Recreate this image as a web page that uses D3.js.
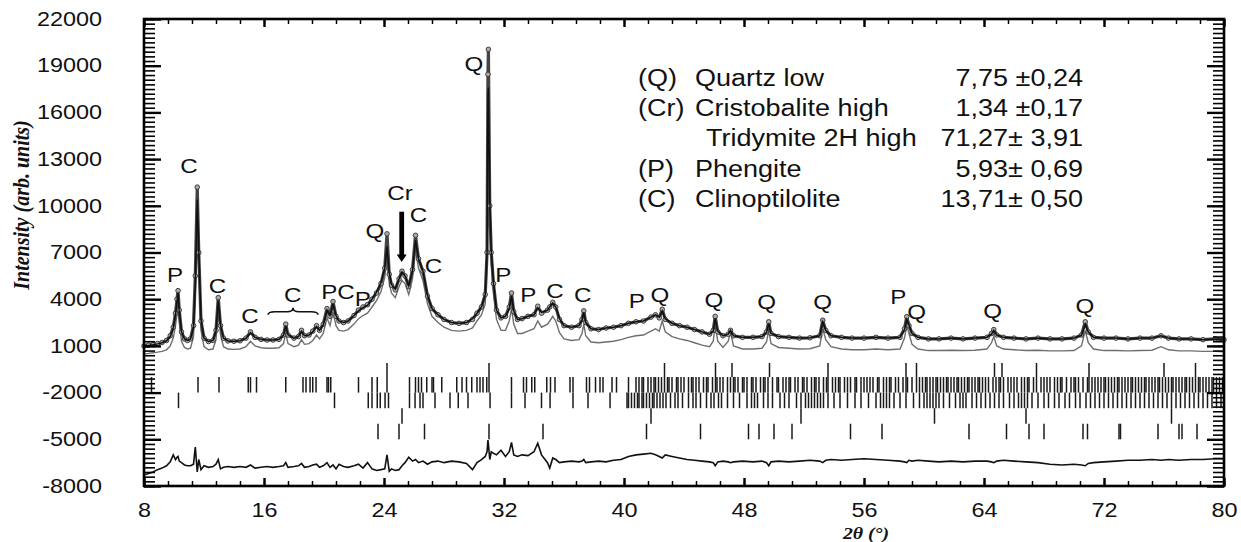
<!DOCTYPE html>
<html><head><meta charset="utf-8">
<script src="https://cdn.jsdelivr.net/npm/d3@7"></script>
<style>body{margin:0;background:#fff}</style>
</head><body>
<svg id="c" width="1241" height="542"></svg>
<script>
// ---------- DATA ----------
const twoTheta = [
 8.0,8.3,8.6,8.9,9.2,9.5,9.75,9.95,10.1,10.2,
 10.27,10.35,10.5,10.7,10.9,11.1,11.3,11.42,11.55,11.65,
 11.8,12.0,12.3,12.6,12.8,12.95,13.1,13.3,13.6,14.0,
 14.4,14.8,15.1,15.4,15.8,16.2,16.6,17.0,17.3,17.45,
 17.6,18.0,18.3,18.5,18.7,19.0,19.25,19.5,19.7,19.95,
 20.2,20.4,20.6,20.8,21.0,21.3,21.6,22.0,22.3,22.6,
 22.9,23.2,23.5,23.8,24.05,24.2,24.35,24.5,24.75,25.0,
 25.2,25.4,25.65,25.9,26.1,26.3,26.6,26.9,27.2,27.6,
 28.0,28.5,29.0,29.5,29.9,30.2,30.5,30.75,30.87,30.93,
 30.96,31.05,31.15,31.3,31.5,31.8,32.1,32.35,32.5,32.65,
 32.9,33.2,33.6,34.0,34.25,34.5,34.9,35.05,35.25,35.45,
 35.7,36.0,36.5,37.0,37.2,37.32,37.45,37.8,38.3,38.8,
 39.3,39.8,40.3,40.8,41.3,41.8,42.1,42.35,42.55,42.75,
 43.2,43.7,44.2,44.7,45.2,45.7,45.95,46.08,46.25,46.6,
 46.95,47.1,47.3,47.9,48.6,49.2,49.5,49.65,49.8,50.3,
 51.0,51.7,52.4,53.05,53.25,53.45,53.8,54.5,55.2,56.0,
 56.8,57.6,58.4,58.7,58.85,59.0,59.2,59.6,60.3,61.0,
 61.8,62.6,63.4,64.2,64.5,64.65,64.85,65.3,66.0,66.8,
 67.6,68.4,69.2,70.0,70.5,70.75,70.95,71.3,72.0,72.8,
 73.6,74.4,75.2,75.8,76.3,77.0,77.8,78.6,79.4,80.0];

const yObs = [
 1000,1050,1080,1150,1220,1350,1650,2200,3100,4000,
 4550,3300,1900,1450,1350,1450,2300,5500,11200,7000,
 2600,1500,1280,1350,2000,4100,2300,1500,1320,1300,
 1330,1500,1900,1550,1420,1380,1380,1420,1700,2400,
 1700,1500,1600,2000,1650,1700,1950,2300,2000,2400,
 3400,2900,3850,2900,2600,2500,2600,2950,3300,3500,
 3650,4000,4400,5000,6000,8200,5600,4900,4600,5300,
 5800,5500,4800,5900,8100,6600,5800,4200,3400,3000,
 2700,2500,2450,2500,2700,3100,3500,4300,7000,18450,
 20050,10000,7000,5000,3300,2800,2900,3500,4400,3200,
 2700,2750,2900,3000,3550,3100,3300,3500,3800,3500,
 2700,2300,2200,2300,2700,3250,2500,2100,2050,2150,
 2200,2300,2450,2550,2600,2850,3000,2800,3350,2700,
 2450,2300,2200,2050,1900,1750,2000,2900,1900,1650,
 1750,2000,1650,1550,1550,1600,1900,2550,1800,1600,
 1550,1500,1520,1650,2650,2000,1650,1550,1500,1500,
 1550,1500,1550,2100,2880,2300,1800,1550,1450,1450,
 1500,1450,1500,1550,1800,2050,1700,1550,1500,1450,
 1500,1450,1450,1500,1700,2550,1900,1550,1500,1500,
 1450,1500,1500,1650,1500,1450,1450,1400,1450,1400];

const yCalc = [
 1000,1030,1070,1130,1200,1330,1600,2150,3000,3900,
 4400,3250,1900,1450,1350,1450,2200,5000,10400,7200,
 2700,1500,1280,1350,1950,3900,2350,1500,1320,1300,
 1330,1480,1850,1550,1420,1380,1380,1420,1680,2300,
 1720,1500,1600,1950,1650,1700,1900,2250,2000,2350,
 3300,2950,3700,2950,2600,2500,2600,2950,3250,3450,
 3600,4000,4450,5050,6000,7400,5700,4950,4650,5300,
 5750,5500,4850,5800,7800,6600,5800,4250,3400,3000,
 2700,2500,2450,2500,2750,3100,3500,4300,7000,17000,
 17600,10500,7100,5000,3300,2800,2900,3400,4200,3250,
 2700,2750,2900,3000,3450,3150,3300,3500,3750,3500,
 2750,2300,2200,2300,2650,3150,2500,2100,2050,2150,
 2200,2300,2450,2550,2600,2850,3000,2850,3250,2750,
 2450,2300,2200,2050,1900,1750,1950,2750,1950,1650,
 1750,2000,1650,1550,1550,1600,1850,2450,1800,1600,
 1550,1500,1520,1650,2550,2000,1650,1550,1500,1500,
 1550,1500,1550,2050,2700,2350,1800,1550,1450,1450,
 1500,1450,1500,1550,1750,2000,1700,1550,1500,1450,
 1500,1450,1450,1500,1680,2400,1900,1550,1500,1500,
 1450,1500,1500,1650,1500,1450,1450,1400,1450,1400];

const yGrey = [
 500,520,560,600,650,750,1000,1500,2300,3000,
 3300,2500,1300,900,800,850,1600,4500,9600,6200,
 2000,950,750,800,1400,3300,1700,950,800,780,
 800,950,1300,1000,880,850,850,880,1150,1800,
 1150,950,1050,1400,1100,1150,1350,1700,1450,1800,
 2800,2300,3200,2300,2000,1950,2050,2400,2750,2950,
 3100,3500,3900,4500,5400,6700,5000,4400,4100,4800,
 5200,5000,4300,5300,7200,6000,5200,3700,2900,2500,
 2200,2000,1950,2000,2150,2600,3000,3700,6200,15800,
 16300,9500,6300,4300,2700,2000,2000,2600,3400,2400,
 1800,1800,1950,2100,2600,2200,2400,2600,2900,2600,
 1850,1450,1350,1400,1800,2400,1650,1250,1200,1250,
 1300,1400,1550,1650,1700,1950,2100,1950,2600,1900,
 1600,1450,1350,1200,1050,950,1300,2400,1300,900,
 1300,1900,1000,800,800,850,1250,2000,1150,900,
 850,800,820,1000,2100,1400,950,800,750,750,
 800,750,800,1500,2300,1800,1100,800,700,700,
 720,700,720,800,1200,1600,1000,800,750,700,
 720,680,680,700,1000,2000,1200,800,700,700,
 680,700,720,950,750,680,680,650,650,620];

const yDiff = [
 -7300,-7200,-7100,-6950,-6850,-6700,-6450,-6000,-6300,-6150,
 -6100,-6400,-6500,-6650,-6700,-6700,-6600,-5500,-7100,-6300,
 -6950,-6700,-6800,-6750,-6600,-6300,-6900,-6800,-6750,-6800,
 -6750,-6800,-6650,-6850,-6800,-6750,-6800,-6750,-6700,-6500,
 -6800,-6750,-6700,-6550,-6800,-6750,-6650,-6600,-6800,-6700,
 -6500,-6800,-6650,-6900,-6600,-6750,-6800,-6700,-6600,-6850,
 -6500,-6900,-7000,-6950,-6900,-6000,-7050,-6900,-7000,-6950,
 -6700,-6500,-6150,-6400,-6300,-6500,-6400,-6600,-6450,-6400,
 -6500,-6400,-6450,-6550,-6950,-6500,-6300,-6100,-5800,-5050,
 -5300,-6300,-5800,-5900,-6000,-5700,-6100,-5800,-5200,-6000,
 -6100,-6000,-6050,-5800,-5250,-6000,-6500,-6850,-6200,-6300,
 -6500,-6450,-6400,-6450,-6400,-6300,-6500,-6450,-6400,-6450,
 -6350,-6300,-6100,-6000,-5950,-5900,-6000,-6100,-6200,-6000,
 -6100,-6200,-6300,-6350,-6400,-6450,-6500,-6700,-6450,-6400,
 -6450,-6500,-6450,-6400,-6450,-6400,-6500,-6700,-6450,-6400,
 -6450,-6400,-6350,-6400,-6500,-6350,-6300,-6350,-6300,-6250,
 -6300,-6350,-6400,-6450,-6500,-6350,-6400,-6350,-6400,-6450,
 -6400,-6450,-6400,-6400,-6450,-6500,-6400,-6350,-6400,-6450,
 -6500,-6600,-6650,-6600,-6650,-6700,-6550,-6500,-6450,-6400,
 -6350,-6350,-6300,-6350,-6300,-6350,-6300,-6300,-6250,-6250];

// Bragg reflection positions (2theta) per phase
const braggQuartz = [24.2,31.0,42.7,46.1,47.2,49.7,53.6,58.8,59.5,64.7,65.2,67.5,71.0,76.0,78.1];
const braggClino = [8.5,11.6,13.0,14.95,15.1,15.5,17.45,18.6,18.8,19.07,19.25,19.47,20.2,20.3,20.45,22.3,23.2,23.55,24.2,
 25.7,26.1,26.3,26.5,26.85,27.2,27.3,27.85,28.85,29.2,29.5,29.85,30.2,30.4,30.6,30.85,31.0,32.5,33.3,33.5,33.85,34.05,
 34.85,35.1,35.4,36.4,36.6,37.5,37.7,38.1,38.4,38.6,39.2,39.5,40.3,
 40.8,41.0,41.2,41.3,41.6,41.8,42.0,42.1,42.3,42.5,42.7,42.9,43.0,43.2,43.5,43.6,43.8,44.0,44.3,44.5,44.6,44.8,45.0,45.3,
 45.5,45.6,45.9,46.1,46.2,46.4,46.6,46.9,47.1,47.3,47.4,47.6,47.9,48.0,48.2,48.5,48.6,48.8,49.1,49.3,49.4,49.6,49.9,50.2,
 50.3,50.6,50.8,51.0,51.1,51.4,51.6,51.9,52.0,52.2,52.5,52.7,52.8,53.0,53.3,53.5,53.6,53.9,54.1,54.3,54.4,54.7,54.9,55.1,
 55.4,55.5,55.8,56.0,56.2,56.4,56.6,56.9,57.0,57.3,57.5,57.7,57.8,58.1,58.3,58.6,58.8,58.9,59.2,59.5,59.7,59.9,60.1,60.2,
 60.4,60.6,60.8,60.9,61.1,61.3,61.5,61.6,61.8,62.0,62.2,62.3,62.5,62.7,62.9,63.0,63.2,63.4,63.6,63.7,63.9,64.1,64.3,64.6,
 64.8,65.0,65.1,65.3,65.6,65.8,66.0,66.2,66.5,66.7,66.9,67.0,67.3,67.5,67.8,68.0,68.2,68.4,68.7,68.9,69.1,69.2,69.5,69.8,
 70.0,70.1,70.3,70.6,70.9,71.0,71.2,71.4,71.6,71.8,72.0,72.1,72.3,72.5,72.7,72.9,73.0,73.2,73.4,73.6,73.8,73.9,74.1,74.3,
 74.5,74.7,74.8,75.0,75.2,75.4,75.6,75.7,75.9,76.1,76.3,76.5,76.6,76.8,77.0,77.2,77.4,77.5,77.7,77.9,78.1,78.3,78.4,78.6,
 78.8,79.0,79.2,79.3,79.5,79.7,79.9];
const braggPhengite = [10.3,20.7,22.95,23.2,23.55,23.75,24.07,24.3,25.7,26.07,26.4,26.6,27.4,28.4,28.95,29.6,31.07,32.5,
 33.4,34.5,35.07,36.6,37.6,39.07,40.2,40.3,40.5,40.7,40.9,41.0,41.2,41.3,
 41.5,41.7,41.9,42.0,42.2,42.4,42.6,42.8,43.1,43.4,43.6,43.9,44.3,44.6,44.8,45.1,45.5,45.8,46.0,46.3,46.5,46.9,47.3,47.7,
 48.2,48.5,48.7,48.9,49.3,49.6,49.9,50.4,50.7,51.0,51.5,51.8,52.1,52.3,52.5,52.7,52.9,53.1,53.3,53.6,54.0,54.4,54.9,55.4,
 55.8,56.3,56.8,57.1,57.3,57.5,57.7,58.0,58.4,58.8,59.3,59.7,60.0,60.2,60.4,60.6,60.8,61.0,61.3,61.7,62.1,62.4,62.6,62.8,
 63.2,63.5,63.8,64.1,64.4,64.7,65.0,65.3,65.7,66.0,66.3,66.5,66.7,66.9,67.2,67.6,68.0,68.3,68.7,69.0,69.4,69.7,70.1,70.4,
 70.8,71.1,71.4,71.7,72.0,72.3,72.6,72.9,73.2,73.5,73.8,74.1,74.4,74.7,75.0,75.3,75.6,75.9,76.2,76.5,76.8,77.1,77.4,77.7,
 78.0,78.3,78.6,78.9,79.2,79.5,79.8];
const braggCristobalite = [25.2,41.8,51.8,60.7,66.8,76.5];
const braggTridymite = [23.6,25.0,26.7,31.0,34.6,41.5,45.1,48.3,49.0,50.0,51.2,55.1,57.2,63.0,65.5,67.0,68.0,70.6,70.9,
 73.0,73.1,75.6,77.0,77.2,78.2];

// axis ticks
const xTickValues = [8,16,24,32,40,48,56,64,72,80];
const yTickValues = [-8000,-5000,-2000,1000,4000,7000,10000,13000,16000,19000,22000];

// peak annotations: text, 2theta, intensity (label centre)
const peakText  = ["P","C","C","C","C","PC","P","Q","Cr","C","C","Q","P","P","C","C","P","Q","Q","Q","Q","P","Q","Q","Q"];
const peakTheta = [10.07,11.0,12.89,15.07,17.91,20.93,22.58,23.4,25.07,26.29,27.29,30.0,31.95,33.62,35.4,37.25,40.85,42.4,46.0,49.51,53.25,58.29,59.51,64.58,70.73];
const peakInt   = [5555,12576,4912,2985,4270,4482,4058,8445,10842,9409,6197,19141,5555,4270,4591,4270,3904,4270,3994,3839,3839,4161,3197,3306,3627];

// legend (phase, wt %)
const legendCodes  = ["(Q)","(Cr)","","(P)","(C)"];
const legendNames  = ["Quartz low","Cristobalite high","Tridymite 2H high","Phengite","Clinoptilolite"];
const legendValues = ["7,75 \u00B10,24","1,34 \u00B10,17","71,27\u00B1 3,91","5,93\u00B1 0,69","13,71\u00B1 0,50"];

// ---------- DRAW ----------
const svg = d3.select("#c");
const X0 = 144, X1 = 1224, Y0 = 19, Y1 = 486;
const x = d3.scaleLinear().domain([8, 80]).range([X0, X1]);
const y = d3.scaleLinear().domain([-8000, 22000]).range([Y1, Y0]);
const SANS = "'Liberation Sans', Arial, sans-serif";
const SERIF = "'Liberation Serif', 'Times New Roman', serif";

// Bragg tick rows
const rows = [
  {pos: braggQuartz, top: -100, bot: -1000},
  {pos: braggClino, top: -1000, bot: -2000},
  {pos: braggPhengite, top: -2000, bot: -3000},
  {pos: braggCristobalite, top: -3000, bot: -4000},
  {pos: braggTridymite, top: -4000, bot: -5000}
];
rows.forEach(r => {
  svg.append("g").selectAll("line").data(r.pos).join("line")
    .attr("x1", d => x(d)).attr("x2", d => x(d))
    .attr("y1", y(r.top)).attr("y2", y(r.bot))
    .attr("stroke", "#1a1a1a").attr("stroke-width", 1.5);
});

const pts = (arr) => arr.map((v, i) => [twoTheta[i], v]);
const line = d3.line().x(d => x(d[0])).y(d => y(d[1]));

// grey (offset) curve
svg.append("path").attr("d", line(pts(yGrey)))
  .attr("fill", "none").attr("stroke", "#6e6e6e").attr("stroke-width", 1.4);
// observed band
svg.append("path").attr("d", line(pts(yObs)))
  .attr("fill", "none").attr("stroke", "#444").attr("stroke-width", 3.2).attr("stroke-linejoin","round");
svg.append("g").selectAll("circle").data(pts(yObs)).join("circle")
  .attr("cx", d => x(d[0])).attr("cy", d => y(d[1])).attr("r", 2.3)
  .attr("fill", "#aaa").attr("stroke", "#333").attr("stroke-width", 0.9);
// calculated
svg.append("path").attr("d", line(pts(yCalc)))
  .attr("fill", "none").attr("stroke", "#111").attr("stroke-width", 1.5);
// difference
svg.append("path").attr("d", line(pts(yDiff)))
  .attr("fill", "none").attr("stroke", "#111").attr("stroke-width", 1.6);

// frame
svg.append("rect").attr("x", X0).attr("y", Y0).attr("width", X1 - X0).attr("height", Y1 - Y0)
  .attr("fill", "none").attr("stroke", "#000").attr("stroke-width", 2.6);

function styleAxis(g, w) {
  g.select(".domain").remove();
  g.selectAll("line").attr("stroke", "#000").attr("stroke-width", w);
}
const yMinor = d3.range(-8000, 22001, 300);
const xMinor = d3.range(0, 46).map(i => 8 + i * 1.6);
svg.append("g").attr("transform", `translate(${X0},0)`)
  .call(d3.axisLeft(y).tickValues(yMinor).tickSize(-11).tickFormat("")).call(g => styleAxis(g, 1.6));
svg.append("g").attr("transform", `translate(${X1},0)`)
  .call(d3.axisRight(y).tickValues(yMinor).tickSize(-11).tickFormat("")).call(g => styleAxis(g, 1.6));
svg.append("g").attr("transform", `translate(${X1},0)`)
  .call(d3.axisRight(y).tickValues(yTickValues).tickSize(-17).tickFormat("")).call(g => styleAxis(g, 2.4));
const gl = svg.append("g").attr("transform", `translate(${X0},0)`)
  .call(d3.axisLeft(y).tickValues(yTickValues).tickSize(-17).tickPadding(0).tickFormat(d => String(d)))
  .call(g => styleAxis(g, 2.4));
gl.selectAll("text").attr("x", 0).attr("transform", "translate(-42,0) scale(1.2,1)")
  .attr("font-family", SANS).attr("font-size", 19.5).attr("fill", "#111");

svg.append("g").attr("transform", `translate(0,${Y1})`)
  .call(d3.axisBottom(x).tickValues(xMinor).tickSize(-5).tickFormat("")).call(g => styleAxis(g, 1.5));
svg.append("g").attr("transform", `translate(0,${Y0})`)
  .call(d3.axisTop(x).tickValues(xMinor).tickSize(-5).tickFormat("")).call(g => styleAxis(g, 1.5));
svg.append("g").attr("transform", `translate(0,${Y0})`)
  .call(d3.axisTop(x).tickValues(xTickValues).tickSize(-8).tickFormat("")).call(g => styleAxis(g, 2.4));
const gb = svg.append("g").attr("transform", `translate(0,${Y1})`)
  .call(d3.axisBottom(x).tickValues(xTickValues).tickSize(-8).tickPadding(0).tickFormat(d => String(d)))
  .call(g => styleAxis(g, 2.4));
gb.selectAll("text").attr("y", 0).attr("transform", "translate(0,17) scale(1.2,1)")
  .attr("font-family", SANS).attr("font-size", 19.5).attr("fill", "#111");

// axis titles
svg.append("text").attr("transform", "translate(22,205) rotate(-90) scale(1,1.15)")
  .attr("text-anchor", "middle").attr("dominant-baseline", "central")
  .attr("font-family", SERIF).attr("font-weight", "bold").attr("font-style", "italic")
  .attr("font-size", 20).attr("fill", "#111").text("Intensity (arb. units)");
svg.append("text").attr("transform", "translate(866,539) scale(1.2,1)")
  .attr("text-anchor", "middle")
  .attr("font-family", SERIF).attr("font-weight", "bold").attr("font-style", "italic")
  .attr("font-size", 16.5).attr("fill", "#111").text("2\u03B8 (\u00B0)");

// peak labels
svg.append("g").selectAll("text").data(peakText).join("text")
  .attr("transform", (d, i) => `translate(${x(peakTheta[i])},${y(peakInt[i]) + 7.5}) scale(1.15,1)`)
  .attr("text-anchor", "middle").attr("font-family", SANS).attr("font-size", 21).attr("fill", "#111")
  .text(d => d);

// brace over C group
(function () {
  const x1 = x(16.27), x2 = x(19.6), xm = (x1 + x2) / 2, yb = y(3197);
  svg.append("path")
    .attr("d", `M${x1},${yb + 3} Q${x1},${yb} ${x1 + 7},${yb} L${xm - 6},${yb} Q${xm},${yb} ${xm},${yb - 4} Q${xm},${yb} ${xm + 6},${yb} L${x2 - 7},${yb} Q${x2},${yb} ${x2},${yb + 3}`)
    .attr("fill", "none").attr("stroke", "#111").attr("stroke-width", 1.6);
})();

// Cr arrow
(function () {
  const xa = x(25.18), yt = y(9621), yh = y(6800), yp = y(6390);
  svg.append("line").attr("x1", xa).attr("x2", xa).attr("y1", yt).attr("y2", yh)
    .attr("stroke", "#000").attr("stroke-width", 4.8);
  svg.append("path").attr("d", `M${xa - 5},${yh - 1} L${xa + 5},${yh - 1} L${xa},${yp} Z`).attr("fill", "#000");
})();

// legend
const lg = svg.append("g").attr("font-family", SANS).attr("font-size", 23.3).attr("fill", "#111");
legendNames.forEach((n, i) => {
  const by = 86 + i * 30.2;
  if (legendCodes[i]) lg.append("text").attr("transform", `translate(638,${by}) scale(1.16,1)`).text(legendCodes[i]);
  lg.append("text").attr("transform", `translate(${legendCodes[i] ? 695 : 706},${by}) scale(1.16,1)`).text(n);
  lg.append("text").attr("transform", `translate(1083,${by}) scale(1.16,1)`).attr("text-anchor", "end").text(legendValues[i]);
});
</script>
</body></html>
